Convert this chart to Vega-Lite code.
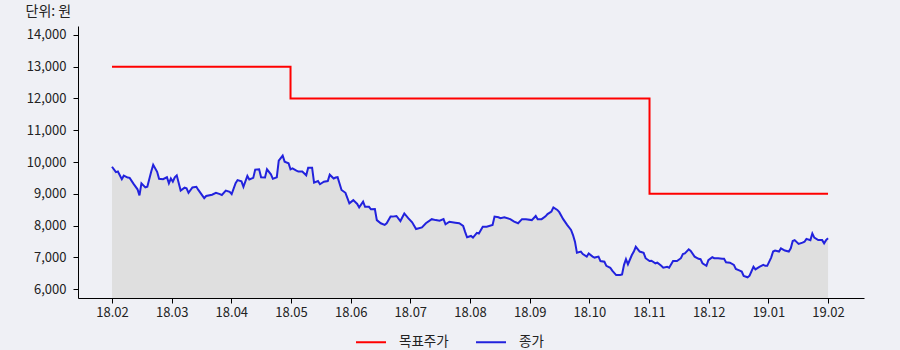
{
  "$schema": "https://vega.github.io/schema/vega-lite/v6.json",
  "width": 786,
  "height": 272,
  "autosize": {"type": "none"},
  "padding": {"left": 78, "top": 26, "right": 36, "bottom": 52},
  "background": "#eff0f5",
  "config": {
    "view": {"stroke": null},
    "font": "Noto Sans CJK KR",
    "axis": {"labelFont": "Noto Sans CJK KR", "titleFont": "Noto Sans CJK KR", "domainColor": "#000000", "tickColor": "#000000", "labelColor": "#222222", "grid": false},
    "legend": {"labelFont": "Noto Sans CJK KR"}
  },
  "datasets": {
    "close": [
      {"date": "2018-02-01", "price": 9850}, {"date": "2018-02-03", "price": 9680}, {"date": "2018-02-04", "price": 9700},
      {"date": "2018-02-06", "price": 9460}, {"date": "2018-02-07", "price": 9570}, {"date": "2018-02-09", "price": 9510},
      {"date": "2018-02-10", "price": 9500}, {"date": "2018-02-12", "price": 9310}, {"date": "2018-02-14", "price": 9140},
      {"date": "2018-02-15", "price": 8950}, {"date": "2018-02-16", "price": 9330}, {"date": "2018-02-18", "price": 9200},
      {"date": "2018-02-19", "price": 9220}, {"date": "2018-02-21", "price": 9700}, {"date": "2018-02-22", "price": 9910},
      {"date": "2018-02-24", "price": 9690}, {"date": "2018-02-25", "price": 9470}, {"date": "2018-02-27", "price": 9460},
      {"date": "2018-03-01", "price": 9520}, {"date": "2018-03-02", "price": 9330}, {"date": "2018-03-03", "price": 9480},
      {"date": "2018-03-04", "price": 9380}, {"date": "2018-03-05", "price": 9520}, {"date": "2018-03-06", "price": 9580},
      {"date": "2018-03-08", "price": 9100}, {"date": "2018-03-10", "price": 9190}, {"date": "2018-03-11", "price": 9170},
      {"date": "2018-03-12", "price": 9030}, {"date": "2018-03-14", "price": 9200}, {"date": "2018-03-16", "price": 9220},
      {"date": "2018-03-17", "price": 9120}, {"date": "2018-03-20", "price": 8860}, {"date": "2018-03-21", "price": 8930},
      {"date": "2018-03-24", "price": 8970}, {"date": "2018-03-26", "price": 9030}, {"date": "2018-03-28", "price": 8990},
      {"date": "2018-03-29", "price": 8960}, {"date": "2018-03-31", "price": 9100}, {"date": "2018-04-02", "price": 9060},
      {"date": "2018-04-03", "price": 8990}, {"date": "2018-04-05", "price": 9330}, {"date": "2018-04-06", "price": 9430},
      {"date": "2018-04-08", "price": 9390}, {"date": "2018-04-09", "price": 9220}, {"date": "2018-04-11", "price": 9560},
      {"date": "2018-04-12", "price": 9450}, {"date": "2018-04-14", "price": 9500}, {"date": "2018-04-15", "price": 9760},
      {"date": "2018-04-17", "price": 9770}, {"date": "2018-04-18", "price": 9520}, {"date": "2018-04-20", "price": 9510},
      {"date": "2018-04-21", "price": 9770}, {"date": "2018-04-23", "price": 9610}, {"date": "2018-04-24", "price": 9470},
      {"date": "2018-04-26", "price": 9520}, {"date": "2018-04-27", "price": 10040}, {"date": "2018-04-29", "price": 10200},
      {"date": "2018-04-30", "price": 10010}, {"date": "2018-05-02", "price": 9960}, {"date": "2018-05-03", "price": 9770},
      {"date": "2018-05-04", "price": 9800}, {"date": "2018-05-06", "price": 9730}, {"date": "2018-05-07", "price": 9700},
      {"date": "2018-05-09", "price": 9700}, {"date": "2018-05-11", "price": 9580}, {"date": "2018-05-12", "price": 9820},
      {"date": "2018-05-14", "price": 9820}, {"date": "2018-05-15", "price": 9350}, {"date": "2018-05-17", "price": 9400},
      {"date": "2018-05-18", "price": 9300}, {"date": "2018-05-20", "price": 9380}, {"date": "2018-05-22", "price": 9400},
      {"date": "2018-05-23", "price": 9600}, {"date": "2018-05-25", "price": 9480}, {"date": "2018-05-26", "price": 9510},
      {"date": "2018-05-27", "price": 9520}, {"date": "2018-05-29", "price": 9120}, {"date": "2018-05-31", "price": 9030},
      {"date": "2018-06-02", "price": 8700}, {"date": "2018-06-04", "price": 8800}, {"date": "2018-06-06", "price": 8680},
      {"date": "2018-06-07", "price": 8570}, {"date": "2018-06-09", "price": 8750}, {"date": "2018-06-10", "price": 8590},
      {"date": "2018-06-12", "price": 8590}, {"date": "2018-06-13", "price": 8510}, {"date": "2018-06-15", "price": 8520},
      {"date": "2018-06-16", "price": 8170}, {"date": "2018-06-18", "price": 8070}, {"date": "2018-06-20", "price": 8020},
      {"date": "2018-06-21", "price": 8070}, {"date": "2018-06-23", "price": 8280}, {"date": "2018-06-24", "price": 8280},
      {"date": "2018-06-26", "price": 8300}, {"date": "2018-06-28", "price": 8140}, {"date": "2018-06-30", "price": 8380},
      {"date": "2018-07-02", "price": 8230}, {"date": "2018-07-04", "price": 8100}, {"date": "2018-07-06", "price": 7890},
      {"date": "2018-07-09", "price": 7940}, {"date": "2018-07-11", "price": 8070}, {"date": "2018-07-14", "price": 8200},
      {"date": "2018-07-16", "price": 8170}, {"date": "2018-07-18", "price": 8150}, {"date": "2018-07-20", "price": 8200},
      {"date": "2018-07-21", "price": 8040}, {"date": "2018-07-23", "price": 8120}, {"date": "2018-07-26", "price": 8090},
      {"date": "2018-07-28", "price": 8070}, {"date": "2018-07-30", "price": 7990}, {"date": "2018-07-31", "price": 7800},
      {"date": "2018-08-01", "price": 7630}, {"date": "2018-08-03", "price": 7670}, {"date": "2018-08-04", "price": 7620},
      {"date": "2018-08-06", "price": 7770}, {"date": "2018-08-07", "price": 7750}, {"date": "2018-08-09", "price": 7960},
      {"date": "2018-08-11", "price": 7960}, {"date": "2018-08-14", "price": 8020}, {"date": "2018-08-15", "price": 8280},
      {"date": "2018-08-17", "price": 8260}, {"date": "2018-08-18", "price": 8230}, {"date": "2018-08-20", "price": 8260},
      {"date": "2018-08-23", "price": 8200}, {"date": "2018-08-25", "price": 8120}, {"date": "2018-08-27", "price": 8070},
      {"date": "2018-08-29", "price": 8200}, {"date": "2018-08-31", "price": 8200}, {"date": "2018-09-03", "price": 8170},
      {"date": "2018-09-05", "price": 8300}, {"date": "2018-09-06", "price": 8200}, {"date": "2018-09-08", "price": 8200},
      {"date": "2018-09-10", "price": 8290}, {"date": "2018-09-11", "price": 8360}, {"date": "2018-09-13", "price": 8440},
      {"date": "2018-09-14", "price": 8570}, {"date": "2018-09-16", "price": 8490}, {"date": "2018-09-17", "price": 8420},
      {"date": "2018-09-19", "price": 8200}, {"date": "2018-09-21", "price": 8020}, {"date": "2018-09-23", "price": 7860},
      {"date": "2018-09-24", "price": 7700}, {"date": "2018-09-25", "price": 7490}, {"date": "2018-09-26", "price": 7140},
      {"date": "2018-09-28", "price": 7180}, {"date": "2018-09-29", "price": 7100}, {"date": "2018-10-01", "price": 7020},
      {"date": "2018-10-02", "price": 7120}, {"date": "2018-10-04", "price": 7020}, {"date": "2018-10-05", "price": 6990},
      {"date": "2018-10-07", "price": 7020}, {"date": "2018-10-08", "price": 6880}, {"date": "2018-10-10", "price": 6860},
      {"date": "2018-10-11", "price": 6730}, {"date": "2018-10-13", "price": 6670}, {"date": "2018-10-14", "price": 6580},
      {"date": "2018-10-16", "price": 6440}, {"date": "2018-10-18", "price": 6440}, {"date": "2018-10-19", "price": 6460},
      {"date": "2018-10-20", "price": 6760}, {"date": "2018-10-21", "price": 6940}, {"date": "2018-10-22", "price": 6780},
      {"date": "2018-10-24", "price": 7070}, {"date": "2018-10-25", "price": 7180}, {"date": "2018-10-26", "price": 7330},
      {"date": "2018-10-28", "price": 7180}, {"date": "2018-10-30", "price": 7140}, {"date": "2018-10-31", "price": 6970},
      {"date": "2018-11-02", "price": 6880}, {"date": "2018-11-03", "price": 6890}, {"date": "2018-11-05", "price": 6810},
      {"date": "2018-11-06", "price": 6830}, {"date": "2018-11-08", "price": 6730}, {"date": "2018-11-09", "price": 6670},
      {"date": "2018-11-11", "price": 6700}, {"date": "2018-11-12", "price": 6670}, {"date": "2018-11-14", "price": 6880},
      {"date": "2018-11-16", "price": 6880}, {"date": "2018-11-18", "price": 6970}, {"date": "2018-11-19", "price": 7100},
      {"date": "2018-11-20", "price": 7120}, {"date": "2018-11-22", "price": 7250}, {"date": "2018-11-23", "price": 7200},
      {"date": "2018-11-25", "price": 7020}, {"date": "2018-11-27", "price": 6950}, {"date": "2018-11-28", "price": 6940},
      {"date": "2018-11-29", "price": 6810}, {"date": "2018-12-01", "price": 6730}, {"date": "2018-12-02", "price": 6910},
      {"date": "2018-12-04", "price": 7000}, {"date": "2018-12-05", "price": 6970}, {"date": "2018-12-07", "price": 6970},
      {"date": "2018-12-09", "price": 6950}, {"date": "2018-12-10", "price": 6950}, {"date": "2018-12-11", "price": 6840},
      {"date": "2018-12-13", "price": 6830}, {"date": "2018-12-15", "price": 6760}, {"date": "2018-12-16", "price": 6630},
      {"date": "2018-12-18", "price": 6580}, {"date": "2018-12-19", "price": 6550}, {"date": "2018-12-20", "price": 6410},
      {"date": "2018-12-22", "price": 6370}, {"date": "2018-12-23", "price": 6420}, {"date": "2018-12-25", "price": 6700},
      {"date": "2018-12-26", "price": 6620}, {"date": "2018-12-28", "price": 6700}, {"date": "2018-12-30", "price": 6760},
      {"date": "2018-12-31", "price": 6730}, {"date": "2019-01-01", "price": 6730}, {"date": "2019-01-03", "price": 6990},
      {"date": "2019-01-04", "price": 7180}, {"date": "2019-01-05", "price": 7210}, {"date": "2019-01-07", "price": 7180},
      {"date": "2019-01-08", "price": 7280}, {"date": "2019-01-10", "price": 7210}, {"date": "2019-01-12", "price": 7180},
      {"date": "2019-01-13", "price": 7280}, {"date": "2019-01-14", "price": 7510}, {"date": "2019-01-15", "price": 7540},
      {"date": "2019-01-17", "price": 7420}, {"date": "2019-01-19", "price": 7460}, {"date": "2019-01-20", "price": 7490},
      {"date": "2019-01-21", "price": 7580}, {"date": "2019-01-23", "price": 7540}, {"date": "2019-01-24", "price": 7750},
      {"date": "2019-01-25", "price": 7620}, {"date": "2019-01-27", "price": 7540}, {"date": "2019-01-29", "price": 7540},
      {"date": "2019-01-30", "price": 7440}, {"date": "2019-01-31", "price": 7540}, {"date": "2019-02-01", "price": 7600}
    ],
    "target": [
      {"date": "2018-02-01", "price": 13000},
      {"date": "2018-05-03", "price": 12000},
      {"date": "2018-11-02", "price": 9000},
      {"date": "2019-02-01", "price": 9000}
    ]
  },
  "encoding": {
    "x": {
      "field": "date",
      "type": "temporal",
      "scale": {
        "type": "utc",
        "domain": [
          {"year": 2018, "month": 1, "date": 14, "hours": 16, "utc": true},
          {"year": 2019, "month": 2, "date": 19, "hours": 8, "utc": true}
        ]
      },
      "axis": {
        "title": null,
        "labelExpr": "utcFormat(datum.value, '%y.%m')",
        "labelFontSize": 13,
        "tickSize": 5,
        "labelPadding": 3,
        "values": [
          {"year": 2018, "month": 2, "date": 1, "hours": 0, "utc": true},
          {"year": 2018, "month": 3, "date": 3, "hours": 10, "utc": true},
          {"year": 2018, "month": 4, "date": 2, "hours": 20, "utc": true},
          {"year": 2018, "month": 5, "date": 3, "hours": 6, "utc": true},
          {"year": 2018, "month": 6, "date": 2, "hours": 16, "utc": true},
          {"year": 2018, "month": 7, "date": 3, "hours": 2, "utc": true},
          {"year": 2018, "month": 8, "date": 2, "hours": 12, "utc": true},
          {"year": 2018, "month": 9, "date": 1, "hours": 22, "utc": true},
          {"year": 2018, "month": 10, "date": 2, "hours": 8, "utc": true},
          {"year": 2018, "month": 11, "date": 1, "hours": 18, "utc": true},
          {"year": 2018, "month": 12, "date": 2, "hours": 4, "utc": true},
          {"year": 2019, "month": 1, "date": 1, "hours": 14, "utc": true},
          {"year": 2019, "month": 2, "date": 1, "hours": 0, "utc": true}
        ]
      }
    },
    "y": {
      "field": "price",
      "type": "quantitative",
      "scale": {"domain": [5717, 14283], "nice": false, "zero": false},
      "axis": {
        "title": "단위: 원",
        "titleAngle": 0,
        "titleAlign": "left",
        "titleBaseline": "middle",
        "titleX": -53,
        "titleY": -15,
        "titleFontSize": 14,
        "titleFontWeight": "normal",
        "titleColor": "#222222",
        "values": [6000, 7000, 8000, 9000, 10000, 11000, 12000, 13000, 14000],
        "format": ",d",
        "labelFontSize": 13,
        "tickSize": 5,
        "labelPadding": 7
      }
    }
  },
  "layer": [
    {
      "data": {"name": "close"},
      "mark": {"type": "area", "color": "#dfdfdf"},
      "encoding": {"y2": {"datum": 5717}}
    },
    {
      "data": {"name": "close"},
      "mark": {"type": "line", "strokeWidth": 2},
      "encoding": {
        "color": {
          "datum": "종가",
          "type": "nominal",
          "scale": {"domain": ["목표주가", "종가"], "range": ["#ff0000", "#2222dd"]},
          "legend": {
            "title": null,
            "orient": "none",
            "direction": "horizontal",
            "legendX": 277,
            "legendY": 300,
            "symbolType": "stroke",
            "symbolSize": 900,
            "symbolStrokeWidth": 2,
            "labelFontSize": 13.5,
            "labelColor": "#222222",
            "labelOffset": 12,
            "columnPadding": 23,
            "padding": 0
          }
        }
      }
    },
    {
      "data": {"name": "target"},
      "mark": {"type": "line", "strokeWidth": 2, "interpolate": "step-after"},
      "encoding": {"color": {"datum": "목표주가", "type": "nominal"}}
    }
  ]
}
